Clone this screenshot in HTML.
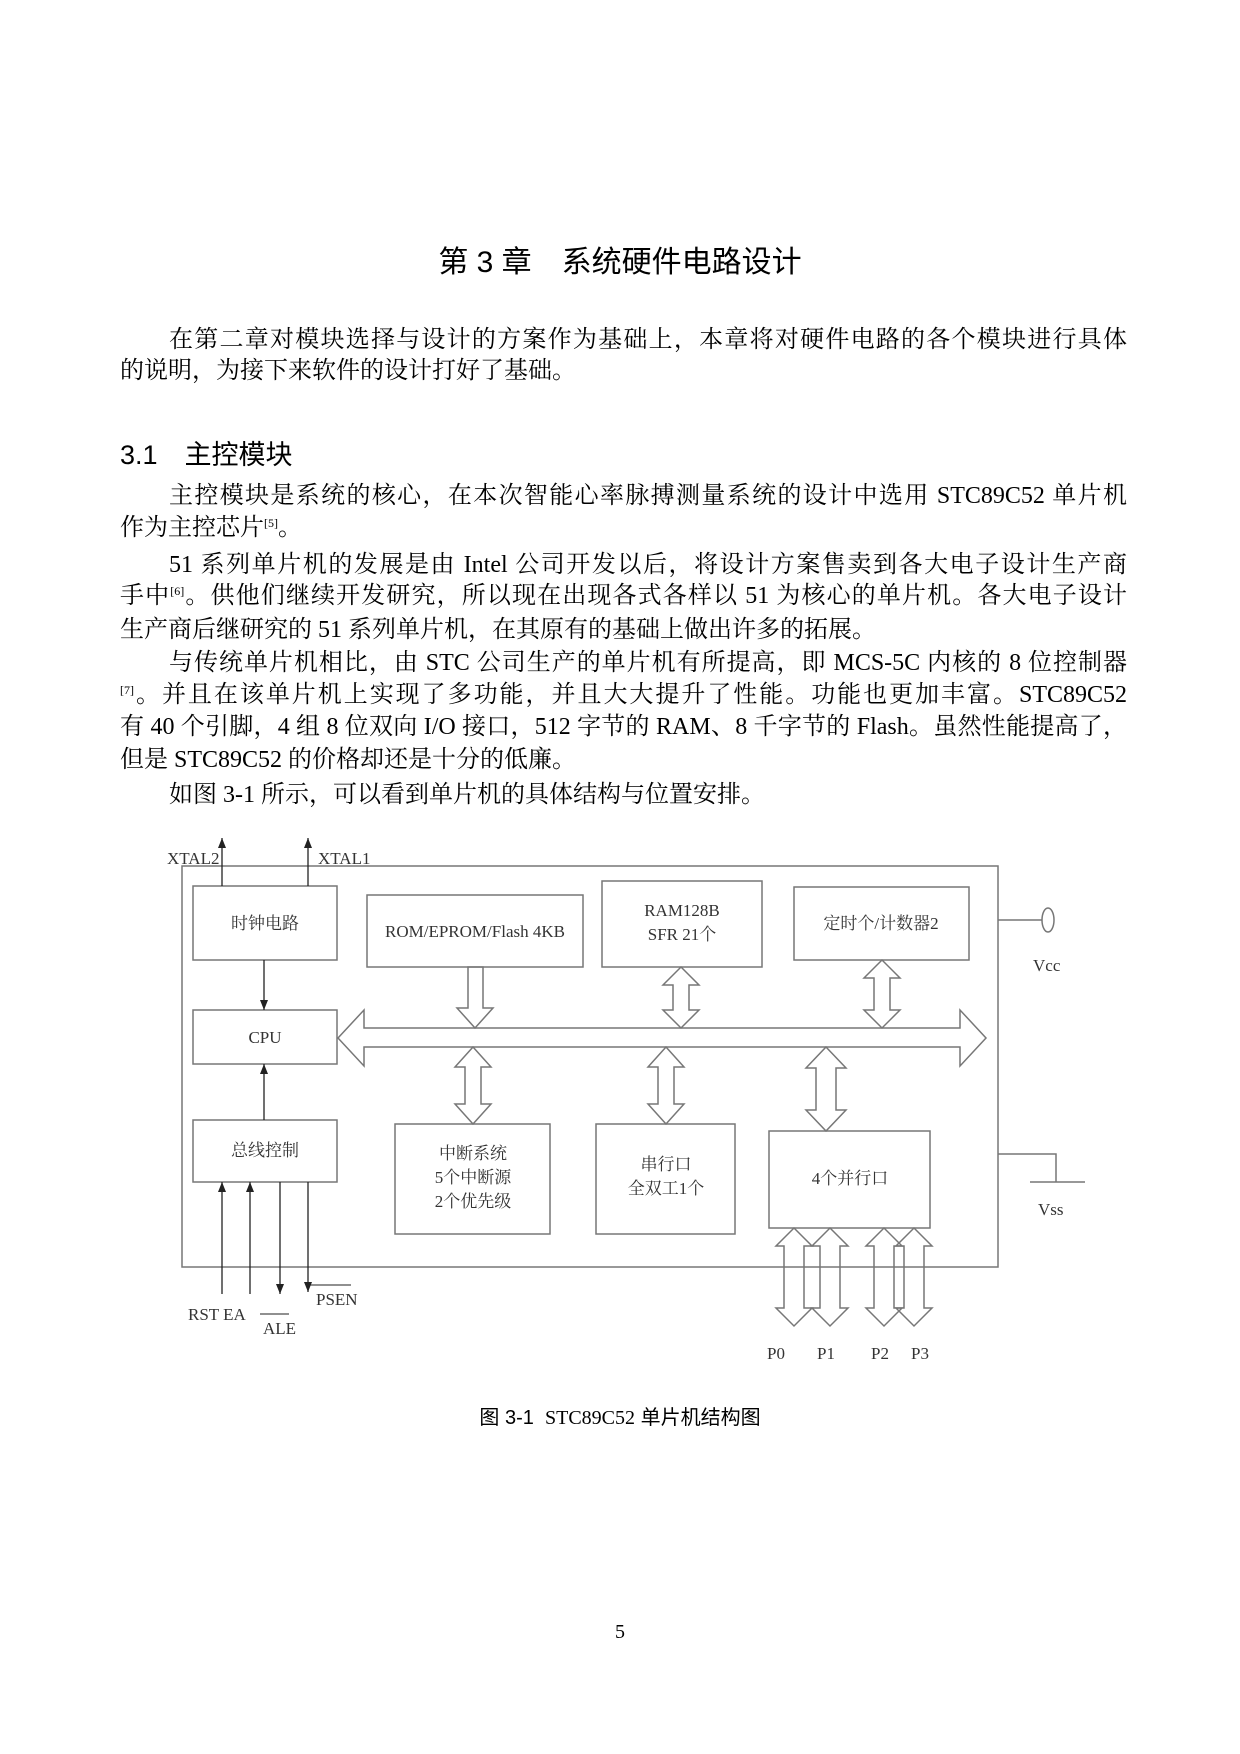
<!DOCTYPE html>
<html><head><meta charset="utf-8">
<style>
body{margin:0;background:#fff;}
.page{position:relative;width:1240px;height:1754px;overflow:hidden;background:#fff;color:#000;}
.t{position:absolute;left:120px;width:1007px;font-family:"Liberation Serif","Noto Serif CJK SC",serif;font-size:24px;line-height:30px;white-space:nowrap;}
.j{text-align:justify;text-align-last:justify;white-space:normal;}
.in{padding-left:49px;box-sizing:border-box;}
sup{font-size:12px;vertical-align:8px;line-height:0;}
.h{font-family:"Liberation Sans","Noto Sans CJK SC",sans-serif;}
svg text{font-family:"Liberation Serif","Noto Serif CJK SC",serif;fill:#333;}
</style></head><body><div class="page">
<div class="t h" style="left:0;width:1240px;text-align:center;top:246px;font-size:30px;line-height:34px;">第 3 章　系统硬件电路设计</div>
<div class="t j in" style="top:325px;">在第二章对模块选择与设计的方案作为基础上，本章将对硬件电路的各个模块进行具体</div>
<div class="t" style="top:356px;">的说明，为接下来软件的设计打好了基础。</div>
<div class="t h" style="top:438px;font-size:27px;line-height:34px;">3.1　主控模块</div>
<div class="t j in" style="top:481px;">主控模块是系统的核心，在本次智能心率脉搏测量系统的设计中选用 STC89C52 单片机</div>
<div class="t" style="top:513px;">作为主控芯片<sup>[5]</sup>。</div>
<div class="t j in" style="top:550px;">51 系列单片机的发展是由 Intel 公司开发以后，将设计方案售卖到各大电子设计生产商</div>
<div class="t j" style="top:581px;">手中<sup>[6]</sup>。供他们继续开发研究，所以现在出现各式各样以 51 为核心的单片机。各大电子设计</div>
<div class="t" style="top:615px;">生产商后继研究的 51 系列单片机，在其原有的基础上做出许多的拓展。</div>
<div class="t j in" style="top:648px;">与传统单片机相比，由 STC 公司生产的单片机有所提高，即 MCS-5C 内核的 8 位控制器</div>
<div class="t j" style="top:680px;"><sup>[7]</sup>。并且在该单片机上实现了多功能，并且大大提升了性能。功能也更加丰富。STC89C52</div>
<div class="t j" style="top:712px;">有 40 个引脚，4 组 8 位双向 I/O 接口，512 字节的 RAM、8 千字节的 Flash。虽然性能提高了，</div>
<div class="t" style="top:745px;">但是 STC89C52 的价格却还是十分的低廉。</div>
<div class="t in" style="top:780px;">如图 3-1 所示，可以看到单片机的具体结构与位置安排。</div>

<svg style="position:absolute;left:0;top:0" width="1240" height="1754">
<defs><marker id="a" markerWidth="10" markerHeight="8" refX="10" refY="4" orient="auto" markerUnits="userSpaceOnUse"><path d="M0,0 L10,4 L0,8 Z" fill="#222"/></marker></defs>
<g fill="none" stroke="#777" stroke-width="1.5">
<rect x="182" y="866" width="816" height="401"/>
<rect x="193" y="886" width="144" height="74"/>
<rect x="367" y="895" width="216" height="72"/>
<rect x="602" y="881" width="160" height="86"/>
<rect x="794" y="887" width="175" height="73"/>
<rect x="193" y="1010" width="144" height="54"/>
<rect x="193" y="1120" width="144" height="62"/>
<rect x="395" y="1124" width="155" height="110"/>
<rect x="596" y="1124" width="139" height="110"/>
<rect x="769" y="1131" width="161" height="97"/>
<polygon points="338,1038 364,1010 364,1028 960,1028 960,1010 986,1038 960,1066 960,1047 364,1047 364,1066"/>
<polygon points="468,967 483,967 483,1008 493,1008 475,1028 457,1008 468,1008"/>
<polygon points="681,967 699,985 689,985 689,1010 699,1010 681,1028 663,1010 673,1010 673,985 663,985"/>
<polygon points="882,960 900,978 890,978 890,1010 900,1010 882,1028 864,1010 874,1010 874,978 864,978"/>
<polygon points="473,1047 491,1067 481,1067 481,1104 491,1104 473,1124 455,1104 465,1104 465,1067 455,1067"/>
<polygon points="666,1047 684,1067 674,1067 674,1104 684,1104 666,1124 648,1104 658,1104 658,1067 648,1067"/>
<polygon points="826,1047 846,1068 836,1068 836,1110 846,1110 826,1131 806,1110 816,1110 816,1068 806,1068"/>
<polygon points="794,1228 812,1246 804,1246 804,1308 812,1308 794,1326 776,1308 784,1308 784,1246 776,1246"/>
<polygon points="830,1228 848,1246 840,1246 840,1308 848,1308 830,1326 812,1308 820,1308 820,1246 812,1246"/>
<polygon points="884,1228 902,1246 894,1246 894,1308 902,1308 884,1326 866,1308 874,1308 874,1246 866,1246"/>
<polygon points="914,1228 932,1246 924,1246 924,1308 932,1308 914,1326 896,1308 904,1308 904,1246 896,1246"/>
<line x1="998" y1="920" x2="1042" y2="920"/>
<ellipse cx="1048" cy="920" rx="6" ry="12"/>
<polyline points="998,1154 1056,1154 1056,1182"/>
<line x1="1030" y1="1182" x2="1085" y2="1182"/>
</g>
<g stroke="#222" stroke-width="1.3" fill="none">
<line x1="222" y1="886" x2="222" y2="838" marker-end="url(#a)"/>
<line x1="308" y1="886" x2="308" y2="838" marker-end="url(#a)"/>
<line x1="264" y1="960" x2="264" y2="1010" marker-end="url(#a)"/>
<line x1="264" y1="1120" x2="264" y2="1064" marker-end="url(#a)"/>
<line x1="222" y1="1294" x2="222" y2="1182" marker-end="url(#a)"/>
<line x1="250" y1="1294" x2="250" y2="1182" marker-end="url(#a)"/>
<line x1="280" y1="1182" x2="280" y2="1294" marker-end="url(#a)"/>
<line x1="308" y1="1182" x2="308" y2="1292" marker-end="url(#a)"/>
<line x1="310" y1="1285" x2="351" y2="1285" stroke-width="1"/>
<line x1="260" y1="1314" x2="289" y2="1314" stroke-width="1"/>
</g>
<g font-size="17">
<text x="167" y="864">XTAL2</text>
<text x="318" y="864">XTAL1</text>
<text x="265" y="929" text-anchor="middle">时钟电路</text>
<text x="475" y="937" text-anchor="middle">ROM/EPROM/Flash 4KB</text>
<text x="682" y="916" text-anchor="middle">RAM128B</text>
<text x="682" y="940" text-anchor="middle">SFR 21个</text>
<text x="881" y="929" text-anchor="middle">定时个/计数器2</text>
<text x="265" y="1043" text-anchor="middle">CPU</text>
<text x="265" y="1156" text-anchor="middle">总线控制</text>
<text x="473" y="1159" text-anchor="middle">中断系统</text>
<text x="473" y="1183" text-anchor="middle">5个中断源</text>
<text x="473" y="1207" text-anchor="middle">2个优先级</text>
<text x="666" y="1170" text-anchor="middle">串行口</text>
<text x="666" y="1194" text-anchor="middle">全双工1个</text>
<text x="850" y="1184" text-anchor="middle">4个并行口</text>
<text x="1033" y="971">Vcc</text>
<text x="1038" y="1215">Vss</text>
<text x="188" y="1320">RST EA</text>
<text x="263" y="1334">ALE</text>
<text x="316" y="1305">PSEN</text>
<text x="767" y="1359">P0</text>
<text x="817" y="1359">P1</text>
<text x="871" y="1359">P2</text>
<text x="911" y="1359">P3</text>
</g>
</svg>
<div class="t h" style="left:0;width:1240px;text-align:center;top:1403px;font-size:20px;">图 3-1&nbsp; <span style="font-family:'Liberation Serif',serif">STC89C52</span> 单片机结构图</div>
<div class="t" style="left:0;width:1240px;text-align:center;top:1617px;font-size:20px;">5</div>
</div></body></html>
